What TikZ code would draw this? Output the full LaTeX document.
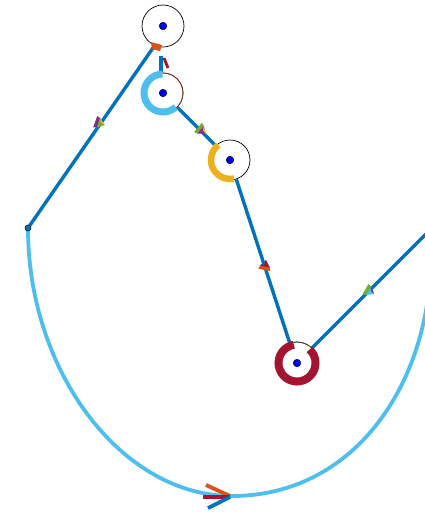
\documentclass[tikz,border=0pt]{standalone}
\usetikzlibrary{calc}
\definecolor{mblue}{HTML}{0072BD}
\definecolor{morange}{HTML}{D95319}
\definecolor{myellow}{HTML}{EDB120}
\definecolor{mpurple}{HTML}{7E2F8E}
\definecolor{mgreen}{HTML}{77AC30}
\definecolor{mlblue}{HTML}{4DBEEE}
\definecolor{mred}{HTML}{A2142F}
\tikzset{
  ring/.style={circle, draw=black, line width=0.7pt, minimum size=#1, inner sep=0pt},
  dotc/.style={circle, fill=blue, draw=black, line width=0.5pt, minimum size=7.5pt, inner sep=0pt},
  edge/.style={mblue, line width=3.4pt},
  curveline/.style={mlblue, line width=3.8pt},
}
% canvas-angle patch: tip direction #3 (counterclockwise from east, on the page)
\newcommand{\tripatch}[6]{%
  \begin{scope}[shift={(#1,#2)}, rotate=#3]
    \fill[#4] (-4,-6) -- (-4,6) -- (-0.5,5) -- (-0.5,-5) -- cycle;
    \fill[#5] (-0.5,5) -- (6,0) -- (-0.5,-5) -- cycle;
    \fill[#6] (-0.5,-5) -- (6,0) -- (1.5,-1) -- cycle;
  \end{scope}}
\begin{document}
\begin{tikzpicture}[x=1pt,y=-1pt]
\useasboundingbox (0,0) rectangle (424,512);
% nodes
\node[ring=42pt] (A) at (163,26) {};
\node[ring=40pt] (B) at (163,93) {};
\node[ring=40pt] (C) at (230,160) {};
\node[ring=42pt] (D) at (297,363) {};
\coordinate (E) at (28,228);
\coordinate (F) at (426,234);
\coordinate (Aend) at (155,45);
% curve
\draw[curveline] (E) .. controls (28,372) and (122,496) .. (232,496)
   .. controls (345,496) and (420,400) .. (430,280);
% edges
\draw[edge] (E) -- (Aend);
\draw[edge] (161,56) -- (161,72);
\draw[edge] (B.-45) -- (C.135);
\draw[edge] (C.-72) -- (D.110);
\draw[edge] (D.45) -- (F);
% arcs (user angles = minus page angles)
\draw[morange!60!black, line width=0.7pt] ($(B)+(-90:20)$) arc[start angle=-90, end angle=50, radius=20];
\draw[mlblue, line width=7pt] ($(B)+(-92:19)$) arc[start angle=-92, end angle=-312, radius=19];
\draw[myellow, line width=6.5pt] ($(C)+(-128:19)$) arc[start angle=-128, end angle=-282, radius=19];
\draw[mgreen!50!black, line width=0.7pt] ($(D)+(-50:21)$) arc[start angle=-50, end angle=-105, radius=21];
\draw[mred, line width=8pt] ($(D)+(-100:18.5)$) arc[start angle=-100, end angle=-407, radius=18.5];
% dots
\node[dotc] (a) at (A) {};
\node[dotc] (b) at (B) {};
\node[dotc] (c) at (C) {};
\node[dotc] (d) at (D) {};
\node[circle, fill=mblue, draw=black, line width=0.5pt, minimum size=6pt, inner sep=0pt] (e) at (E) {};
% end patch at A
\fill[morange] (151,42) -- (162,45) -- (160,51) -- (152,49) -- cycle;
\draw[mred, line width=2.8pt] (164,58) -- (168,68);
% arrow patches
\tripatch{99}{123}{-20}{mpurple}{mgreen}{myellow}
\tripatch{201}{130}{-40}{mgreen}{mpurple}{myellow}
\tripatch{265}{266}{80}{morange}{mred}{mblue}
\tripatch{369}{291}{-30}{mgreen}{mlblue}{mpurple}
% bottom arrow
\draw[morange, line width=3.8pt] (206,485) -- (230,496);
\draw[mred, line width=3.8pt] (203,497) -- (230,497);
\draw[mblue, line width=3.8pt] (208,508) -- (230,497);
\end{tikzpicture}
\end{document}
